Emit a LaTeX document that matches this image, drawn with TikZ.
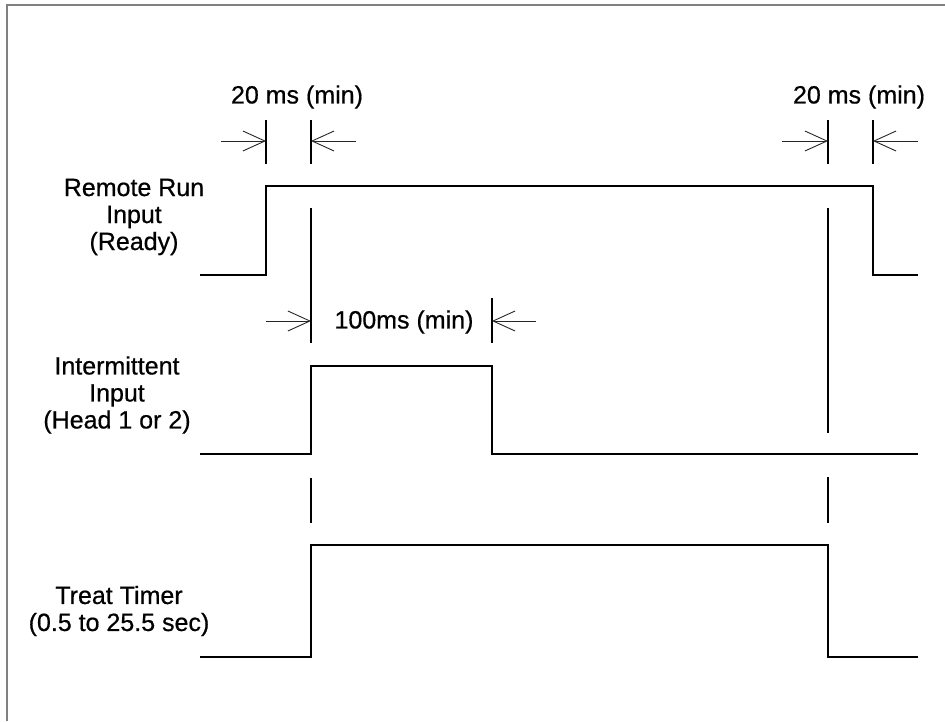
\documentclass[tikz,border=0pt]{standalone}
\usepackage{fontspec}
\setmainfont{Liberation Sans}
\newfontfamily\lblfont{Liberation Sans}[FakeBold=0.6]
\usetikzlibrary{arrows.meta}

\begin{document}
\begin{tikzpicture}[x=1pt,y=-1pt,
	every node/.style={font=\lblfont\fontsize{25}{27}\selectfont,align=center,inner sep=0pt},
	wave/.style={line width=1.4pt,line join=miter},
	dimtick/.style={line width=1.1pt},
	dimline/.style={line width=0.9pt,black!85,-{Straight Barb[length=22pt,width=20pt]}}]
\useasboundingbox (0,0) rectangle (945,721);
\def\xs{200}
\def\xe{918}
\def\ta{266}
\def\tb{311}
\def\tc{492}
\def\td{828}
\def\te{873}

%frame
\draw[gray,line width=2pt] (7,721) -- (7,5) -- (945,5);

%labels
\node (rr) at (134,217) {Remote Run\\Input\\(Ready)};
\node (ii) at (117,395) {Intermittent\\Input\\(Head 1 or 2)};
\node (tt) at (119,611) {Treat Timer\\(0.5 to 25.5 sec)};

%waveforms
\draw[wave] (\xs,275) -- (\ta,275) -- (\ta,186) -- (\te,186) -- (\te,275) -- (\xe,275);
\draw[wave] (\xs,454) -- (\tb,454) -- (\tb,366) -- (\tc,366) -- (\tc,454) -- (\xe,454);
\draw[wave] (\xs,657) -- (\tb,657) -- (\tb,545) -- (\td,545) -- (\td,657) -- (\xe,657);

%guides
\draw[dimtick] (\tb,208) -- (\tb,343) (\tb,478) -- (\tb,523);
\draw[dimtick] (\td,208) -- (\td,433) (\td,477) -- (\td,523);

%ticks
\foreach \x in {\ta,\tb,\td,\te}
	\draw[dimtick] (\x,120) -- (\x,164);
\draw[dimtick] (\tc,298) -- (\tc,343);

%times
\node (w1) at (297,97) {20 ms (min)};
\node (w2) at (859,97) {20 ms (min)};
\node (w3) at (404,322) {100ms (min)};

%arrows
\foreach \s/\t [count=\i] in {221/\ta,356/\tb,782/\td,918/\te}
	{\coordinate (s\i) at (\s,141);
	\coordinate (e\i) at (\t,141);
	\draw[dimline] (s\i) -- (e\i);}
\foreach \s/\t [count=\i] in {266/\tb,536/\tc}
	{\coordinate (u\i) at (\s,321);
	\coordinate (v\i) at (\t,321);
	\draw[dimline] (u\i) -- (v\i);}
\end{tikzpicture}
\end{document}
